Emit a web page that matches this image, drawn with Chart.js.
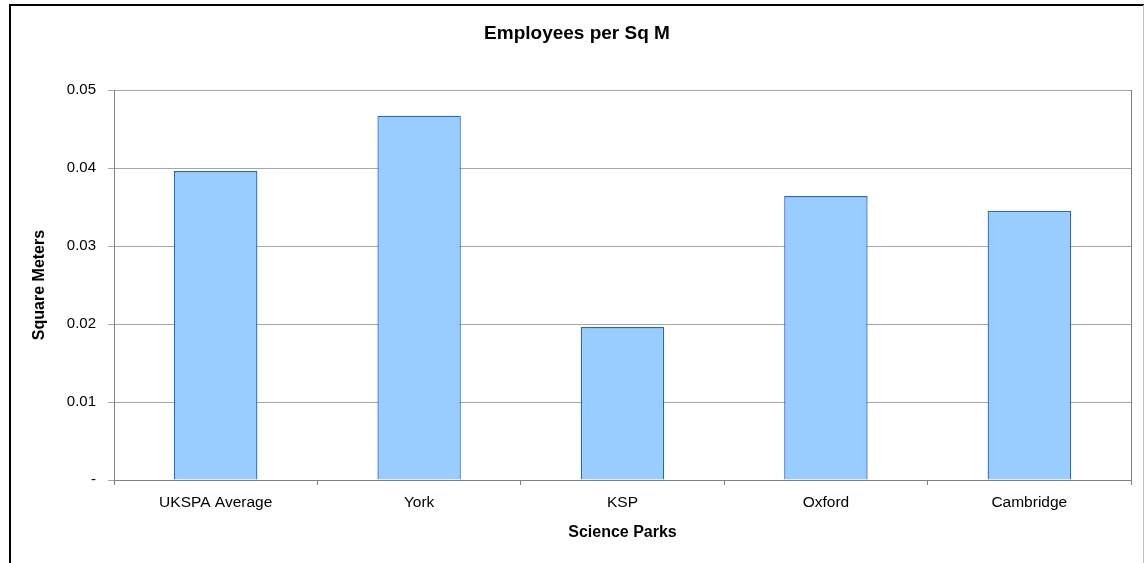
<!DOCTYPE html>
<html>
<head>
<meta charset="utf-8">
<script src="https://cdn.jsdelivr.net/npm/chart.js@4/dist/chart.umd.min.js"></script>
<style>
  html, body { margin: 0; padding: 0; background: #ffffff; }
  #wrap { width: 1144px; height: 563px; position: relative; }
</style>
</head>
<body>
<div id="wrap"><canvas id="c" width="1144" height="563"></canvas></div>
<script>
const categories = ['UKSPA Average', 'York', 'KSP', 'Oxford', 'Cambridge'];
const employeesPerSqM = [0.0396, 0.0467, 0.0196, 0.0364, 0.0345];
const yTickLabels = ['-', '0.01', '0.02', '0.03', '0.04', '0.05'];
const chartTitle = 'Employees per Sq M';
const xTitle = 'Science Parks';
const yTitle = 'Square Meters';

const FONT = "'Liberation Sans', Arial, sans-serif";

const framePlugin = {
  id: 'frame',
  beforeDraw(chart) {
    const ctx = chart.ctx;
    ctx.save();
    ctx.fillStyle = '#ffffff';
    ctx.fillRect(0, 0, chart.width, chart.height);
    ctx.strokeStyle = '#000000';
    ctx.lineWidth = 2;
    ctx.beginPath();
    ctx.moveTo(10, 563);
    ctx.lineTo(10, 5);
    ctx.lineTo(1144, 5);
    ctx.stroke();
    ctx.strokeStyle = '#c0c0c0';
    ctx.lineWidth = 1;
    ctx.beginPath();
    ctx.moveTo(1143.5, 5);
    ctx.lineTo(1143.5, 563);
    ctx.stroke();
    ctx.restore();
  },
  afterDatasetsDraw(chart) {
    const a = chart.chartArea;
    const ctx = chart.ctx;
    ctx.save();
    ctx.strokeStyle = '#808080';
    ctx.lineWidth = 1;
    ctx.beginPath();
    ctx.moveTo(Math.round(a.right) + 0.5, a.top);
    ctx.lineTo(Math.round(a.right) + 0.5, a.bottom);
    ctx.stroke();
    ctx.restore();
  },
  afterDraw(chart) {
    const ctx = chart.ctx;
    ctx.save();
    ctx.fillStyle = '#000000';
    ctx.font = "bold 19px " + FONT;
    ctx.textAlign = 'center';
    ctx.textBaseline = 'middle';
    ctx.fillText(chartTitle, 577, 34);
    ctx.restore();
  }
};

new Chart(document.getElementById('c'), {
  type: 'bar',
  data: {
    labels: categories,
    datasets: [{
      data: employeesPerSqM,
      backgroundColor: '#99CCFF',
      borderColor: '#1A6AD6',
      borderWidth: 1.3,
      barPercentage: 0.41,
      categoryPercentage: 1
    }]
  },
  plugins: [framePlugin],
  options: {
    responsive: false,
    animation: false,
    devicePixelRatio: 1,
    layout: { padding: { left: 0, right: 13, top: 90, bottom: 0 } },
    plugins: {
      legend: { display: false },
      tooltip: { enabled: false },
      title: { display: false }
    },
    scales: {
      x: {
        offset: true,
        grid: {
          display: true,
          offset: true,
          drawOnChartArea: false,
          drawTicks: true,
          tickLength: 5,
          color: '#808080'
        },
        border: { display: true, color: '#808080', width: 1 },
        ticks: {
          color: '#000000',
          font: { family: FONT, size: 15.5 },
          padding: 8,
          maxRotation: 0,
          autoSkip: false
        },
        title: {
          display: true,
          text: xTitle,
          color: '#000000',
          font: { family: FONT, size: 16, weight: 'bold' },
          padding: { top: 12, bottom: 20.4 }
        },
        afterFit(scale) { scale.height = 83; }
      },
      y: {
        min: 0,
        max: 0.05,
        grid: {
          color: '#A6A6A6',
          lineWidth: 1,
          drawTicks: true,
          tickLength: 6
        },
        border: { display: true, color: '#808080', width: 1 },
        ticks: {
          stepSize: 0.01,
          color: '#000000',
          font: { family: FONT, size: 15 },
          padding: 12,
          callback: (value, index) => yTickLabels[index]
        },
        title: {
          display: true,
          text: yTitle,
          color: '#000000',
          font: { family: FONT, size: 16, weight: 'bold' },
          padding: { top: 30.4, bottom: 0 }
        },
        afterFit(scale) { scale.width = 114; }
      }
    }
  }
});
</script>
</body>
</html>
